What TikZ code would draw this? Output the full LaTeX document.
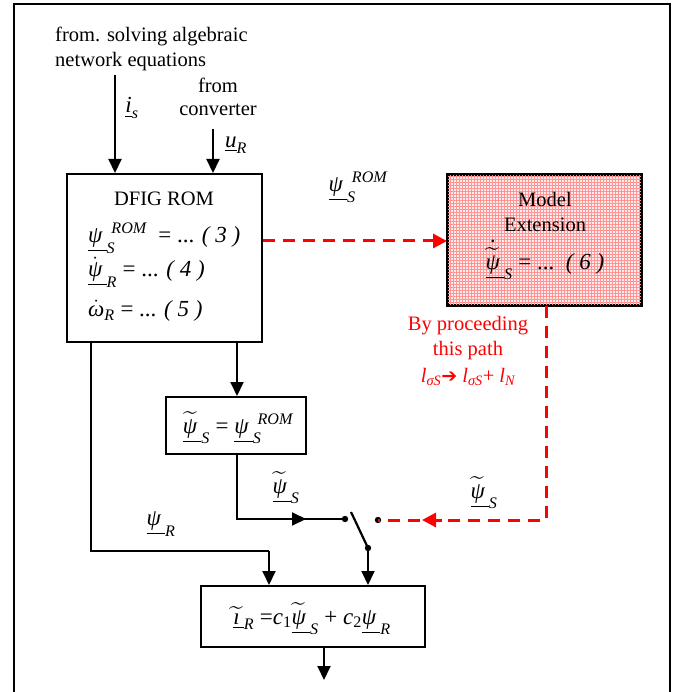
\documentclass[tikz,border=0pt]{standalone}
\usepackage{amsmath}
\usepackage{fontspec}
\setmainfont{Liberation Serif}
\newfontfamily\dejavu{DejaVu Sans}
\usetikzlibrary{arrows.meta,patterns}
\newcommand\mi[1]{\text{\itshape #1}}
\newcommand\mathsz{\fontsize{23}{27}\selectfont}
\begin{document}
\begin{tikzpicture}[x=1pt,y=-1pt,
  every node/.style={font=\fontsize{20.5}{24}\selectfont, inner sep=0pt},
  eqn/.style={font=\mathsz},
  blk/.style={draw, line width=2pt, rectangle},
  ln/.style={line width=2pt},
  arr/.style={line width=2pt, -{Triangle[length=14pt,width=13pt]}},
  rdash/.style={red, line width=3pt, dash pattern=on 12pt off 8pt},
  rarr/.style={red, line width=3pt, -{Triangle[length=14pt,width=14pt]}},
  rtxt/.style={red, align=center}]
\useasboundingbox (0,0) rectangle (683,692);
% frame
\draw[line width=2.5pt] (14,694) -- (14,4) -- (670,4) -- (670,694);

% top texts
\node[anchor=west] (src1) at (55,36) {from. solving algebraic};
\node[anchor=west] (src2) at (55,62) {network equations};
\node (conv1) at (218,85) {from};
\node (conv2) at (218,110) {converter};
\node[eqn] (lis) at (132,108) {$\underline{\mi{i}}_{\mi{s}}$};
\node[eqn] (lur) at (236,145) {$\underline{\mi{u}}_{\mi{R}}$};

% boxes
\node[blk, minimum width=195pt, minimum height=168pt] (dfig) at (164.5,258) {};
\node[blk, minimum width=193pt, minimum height=130pt, fill=red!8] (me) at (544.5,240) {};
\fill[pattern=grid, pattern color=red!42] (me.south west) rectangle (me.north east);
\draw[line width=2pt] (me.south west) rectangle (me.north east);
\node[blk, minimum width=140pt, minimum height=57pt] (eqb) at (236,425.5) {};
\node[blk, minimum width=224pt, minimum height=61pt] (irb) at (313,616.5) {};

% DFIG text
\node (dt) at (164,199) {DFIG ROM};
\node[eqn, anchor=west] (e3) at (88,238) {$\underline{\mi{ψ}\,}_{\mi{S}}^{\;\mi{ROM}}$\ \ = ... \textit{( 3 )}};
\node[eqn, anchor=west] (e4) at (88,272) {$\underline{\dot{\mi{ψ}}\,}_{\mi{R}}$ = ... \textit{( 4 )}};
\node[eqn, anchor=west] (e5) at (88,311) {$\dot{\mi{ω}}_{\mi{R}}$ = ... \textit{( 5 )}};

% Model extension text
\node (m1) at (545,199) {Model};
\node (m2) at (545,225) {Extension};
\node[eqn] (m3) at (545,259) {$\underline{\overset{\text{\upshape\bfseries .}}{\widetilde{\mi{ψ}}}\,}_{\mi{S}}$ = ...\ \ \textit{( 6 )}};

% small box and bottom box text
\node[eqn] (eqt) at (238,428) {$\underline{\widetilde{\mi{ψ}}\,}_{\mi{S}}$ = $\underline{\mi{ψ}\,}_{\mi{S}}^{\;\mi{ROM}}$};
\node[eqn] (irt) at (312,619) {$\underline{\widetilde{\mi{ı}}\,}_{\mi{R}}$ =$\mi{c}_{\text{1}}\underline{\widetilde{\mi{ψ}}\,}_{\mi{S}}$ + $\mi{c}_{\text{2}}\underline{\mi{ψ}\,}_{\mi{R}}$};

% labels
\node[eqn] (lrom) at (358,187) {$\underline{\mi{ψ}\,}_{\mi{S}}^{\;\mi{ROM}}$};
\node[eqn] (lps1) at (286,488) {$\underline{\widetilde{\mi{ψ}}\,}_{\mi{S}}$};
\node[eqn] (lps2) at (484,493) {$\underline{\widetilde{\mi{ψ}}\,}_{\mi{S}}$};
\node[eqn] (lpr) at (161,524) {$\underline{\mi{ψ}\,}_{\mi{R}}$};
\node[rtxt] (r1) at (468,326) {By proceeding};
\node[rtxt] (r2) at (468,351) {this path};
\node[rtxt] (r3) at (468,377) {$\mi{l}_{\mi{σS}}${\dejavu\fontsize{19}{22}\selectfont ➔} $\mi{l}_{\mi{σS}}$+ $\mi{l}_{\mi{N}}$};

% switch
\coordinate (swL) at (345,519);
\coordinate (swR) at (378,520);
\coordinate (swB) at (368,548);
\fill (swL) circle (3.2pt);
\fill (swR) circle (3.2pt);
\fill (swB) circle (3.2pt);
\draw[line width=2.2pt] (351,512) -- (swB);

% input arrows
\coordinate (a1) at (115,75);
\coordinate (a2) at (213,129);
\draw[arr] (a1) -- (a1 |- dfig.north);
\draw[arr] (a2) -- (a2 |- dfig.north);

% dfig to eq box
\coordinate (d1) at (237,342);
\draw[arr] (dfig.south -| d1) -- (eqb.north -| d1);

% eq box to switch
\draw[ln] (eqb.south -| d1) -- (237,519) -- (swL);
\coordinate (m1a) at (289,519);
\coordinate (m1b) at (306,519);
\draw[arr] (m1a) -- (m1b);

% psi_R path
\coordinate (p1) at (91,551);
\draw[ln] (dfig.south -| p1) -- (p1) -- (269,551);
\coordinate (p2) at (269,551);
\draw[arr] (p2) -- (p2 |- irb.north);

% switch to bottom box
\draw[arr] (swB) -- (swB |- irb.north);

% output
\coordinate (o1) at (324,647);
\draw[arr] (irb.south -| o1) -- (324,680);

% red dashed arrow to model extension
\coordinate (r0) at (262,241);
\draw[rdash] (dfig.east |- r0) -- (433,241);
\draw[rarr] (430,241) -- (me.west |- r0);

% red return path
\coordinate (q1) at (546,520);
\draw[rdash] (me.south -| q1) -- (q1) -- (swR);
\draw[rarr] (442,520) -- (422,520);
\end{tikzpicture}
\end{document}
